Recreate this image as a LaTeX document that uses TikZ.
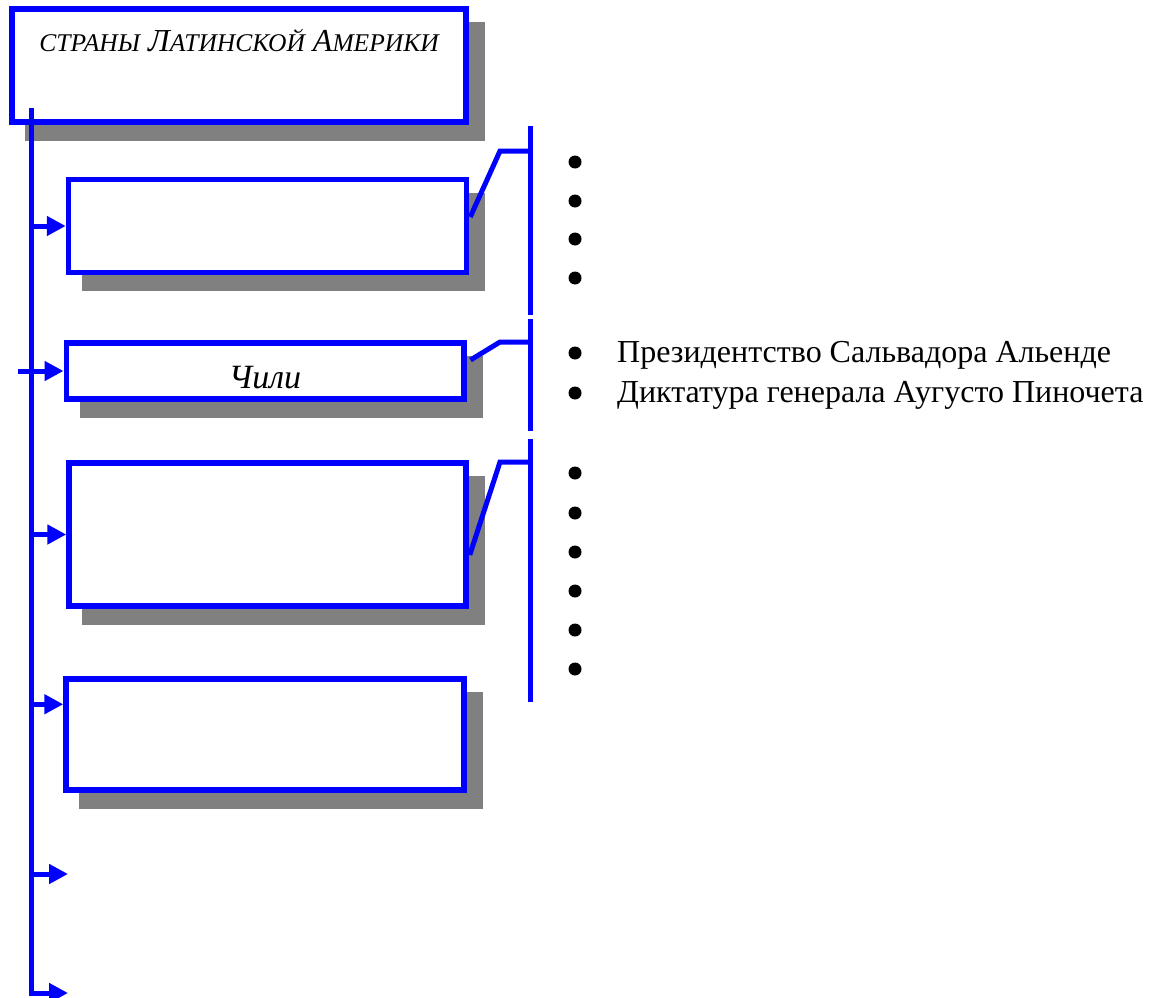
\documentclass[tikz,border=0pt]{standalone}
\usepackage{fontspec}
\setmainfont{Liberation Serif}
\usetikzlibrary{arrows.meta, calc, shadows}
\definecolor{linec}{RGB}{0,0,255}
\definecolor{shadc}{RGB}{128,128,128}
\newcommand{\minicaps}[1]{{\fontsize{25.5}{30}\selectfont #1}}

\begin{document}
\begin{tikzpicture}[x=1pt, y=-1pt, font=\fontsize{32}{38}\selectfont,
	blk/.style={rectangle, draw=linec, line width=5.5pt, fill=white, inner sep=0pt,
		general shadow={shadow xshift=16pt, shadow yshift=-16pt, fill=shadc, draw=shadc, line width=5.5pt}},
	lnk/.style={draw=linec, line width=5pt},
	arr/.style={lnk, -{Triangle[length=19pt 0 0, width=19pt 0 0]}},
	bul/.style={circle, fill=black, inner sep=0pt, minimum size=13pt}]
					\useasboundingbox (0,0) rectangle (1162,998);
					% boxes
					\node[blk, minimum width=454pt, minimum height=113pt, text height=22pt, text depth=49pt] (top) at (239,65.5) {\itshape\minicaps{СТРАНЫ} Л\minicaps{АТИНСКОЙ} А\minicaps{МЕРИКИ}};
					\node[blk, minimum width=398pt, minimum height=93pt] (b1) at (267.5,226) {};
					\node[blk, minimum width=397.5pt, minimum height=56pt, text height=44pt, text depth=10pt, font=\fontsize{34}{40}\selectfont] (b2) at (265,371) {\itshape Чили};
					\node[blk, minimum width=397pt, minimum height=143pt] (b3) at (267.5,534.5) {};
					\node[blk, minimum width=398pt, minimum height=111pt] (b4) at (265,734.5) {};
					
					% trunk and free ends
					\coordinate (trtop) at (31,108);
					\coordinate (e5) at (68,874);
					\coordinate (e6) at (68,993);
					\coordinate (a4) at ($(b4.north west)+(0,28)$);
					\draw[arr] (trtop) |- (e6);
					\draw[arr] (trtop |- b1.west) -- (b1.west);
					\draw[arr] ([xshift=-13pt]trtop |- b2.west) -- (b2.west);
					\draw[arr] (trtop |- b3.west) -- (b3.west);
					\draw[arr] (trtop |- a4) -- (a4);
					\draw[arr] (trtop |- e5) -- (e5);
					
					% brackets
					\coordinate (k1a) at (530,126);
					\coordinate (k1b) at (530,315);
					\coordinate (k2a) at (530,319);
					\coordinate (k2b) at (530,431);
					\coordinate (k3a) at (530,439);
					\coordinate (k3b) at (530,702);
					\draw[lnk] (k1a) -- (k1b);
					\draw[lnk] (k2a) -- (k2b);
					\draw[lnk] (k3a) -- (k3b);
					\coordinate (n1) at (500,151);
					\coordinate (n2) at (500,342);
					\coordinate (n3) at (500,462);
					\draw[lnk] ($(b1.east)+(1,-9)$) -- (n1) -- (n1 -| k1a);
					\draw[lnk] ($(b2.east)+(4,-11)$) -- (n2) -- (n2 -| k2a);
					\draw[lnk] ($(b3.east)+(1,20.5)$) -- (n3) -- (n3 -| k3a);
					
					% lists
					\foreach \y [count=\i] in {162,201,239,278}
						\node[bul] (d1\i) at (575,\y) {};
					\node[bul] (d21) at (575,353) {};
					\node[bul] (d22) at (575,393) {};
					\node[anchor=west, inner sep=0pt] (t21) at (617,355) {Президентство Сальвадора Альенде};
					\node[anchor=west, inner sep=0pt] (t22) at (617,395) {Диктатура генерала Аугусто Пиночета};
					\foreach \y [count=\i] in {473,513,552,591,630,669}
						\node[bul] (d3\i) at (575,\y) {};
					\end{tikzpicture}
\end{document}
